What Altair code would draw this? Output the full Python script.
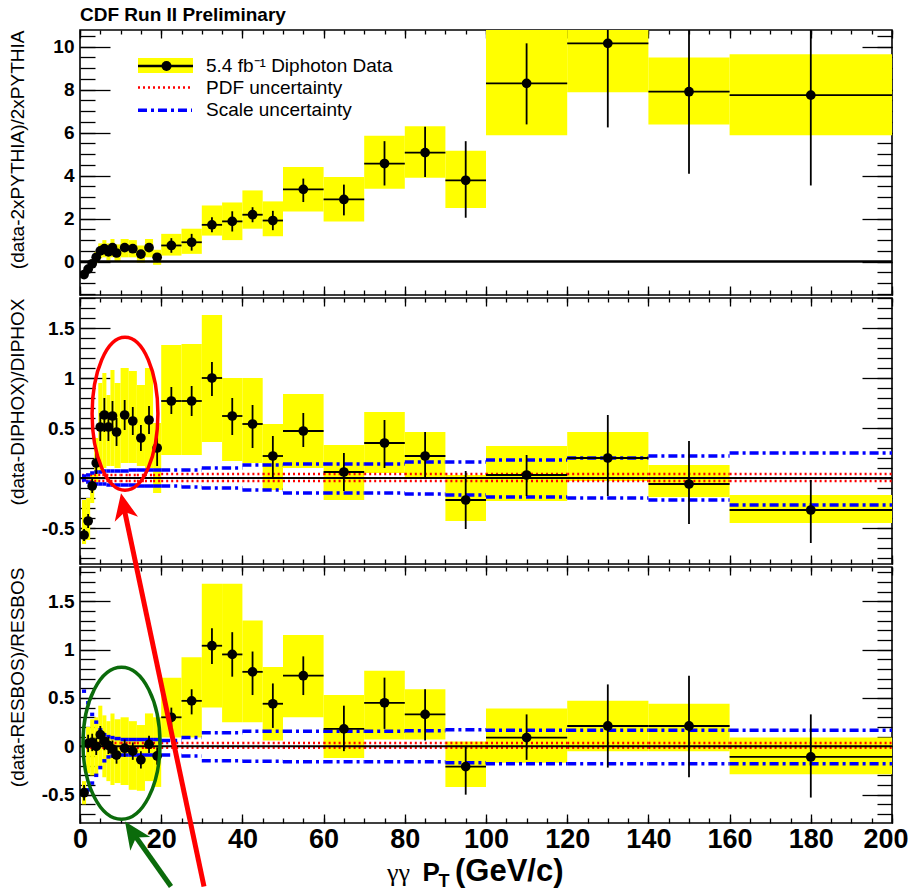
import altair as alt
import pandas as pd

FONT = "Liberation Sans"
YEL = "#ffff00"
BLUE = "#0000ff"
RED = "#ff0000"

# ---- binning (GeV/c) ----
bin_c = [1, 2, 3, 4, 5, 6, 7, 8, 9, 11, 13, 15, 17, 19, 22.5, 27.5, 32.5, 37.5, 42.5, 47.5, 55, 65, 75, 85, 95, 110, 130, 150, 180]
bin_lo = [0.5, 1.5, 2.5, 3.5, 4.5, 5.5, 6.5, 7.5, 8.5, 10, 12, 14, 16, 18, 20, 25, 30, 35, 40, 45, 50, 60, 70, 80, 90, 100, 120, 140, 160]
bin_hi = [1.5, 2.5, 3.5, 4.5, 5.5, 6.5, 7.5, 8.5, 10, 12, 14, 16, 18, 20, 25, 30, 35, 40, 45, 50, 60, 70, 80, 90, 100, 120, 140, 160, 200]

# ---- panel 1 : (data-2xPYTHIA)/2xPYTHIA ----
p1_val = [-0.6, -0.35, -0.1, 0.2, 0.5, 0.6, 0.45, 0.65, 0.4, 0.65, 0.6, 0.35, 0.65, 0.2, 0.75, 0.9, 1.71, 1.87, 2.18, 1.91, 3.36, 2.89, 4.56, 5.07, 3.78, 8.29, 10.15, 7.9, 7.74]
p1_err_lo = [-0.72, -0.47, -0.22, 0.08, 0.38, 0.45, 0.3, 0.5, 0.25, 0.5, 0.45, 0.2, 0.5, 0.05, 0.41, 0.51, 1.36, 1.4, 1.83, 1.46, 2.77, 2.15, 3.54, 3.94, 2.04, 6.38, 6.24, 4.09, 3.54]
p1_err_hi = [-0.48, -0.23, 0.02, 0.32, 0.62, 0.75, 0.6, 0.8, 0.55, 0.8, 0.75, 0.5, 0.8, 0.35, 1.09, 1.29, 2.06, 2.34, 2.53, 2.36, 3.86, 3.58, 5.6, 6.27, 5.6, 10.15, 12.5, 11.8, 11.9]
p1_sys_lo = [-0.75, -0.5, -0.3, -0.05, 0.15, 0.2, 0.05, 0.2, 0.0, 0.2, 0.2, -0.05, 0.2, -0.15, 0.28, 0.36, 1.21, 1.0, 1.53, 1.18, 2.33, 1.87, 3.39, 3.9, 2.49, 5.88, 7.87, 6.38, 5.88]
p1_sys_hi = [-0.45, -0.2, 0.1, 0.45, 0.85, 1.0, 0.85, 1.05, 0.8, 1.05, 1.0, 0.75, 1.05, 0.55, 1.29, 1.53, 2.61, 2.75, 3.31, 2.8, 4.4, 3.94, 5.85, 6.3, 5.15, 11.5, 12.5, 9.49, 9.64]

# ---- panel 2 : (data-DIPHOX)/DIPHOX ----
p2_val = [-0.57, -0.43, -0.08, 0.15, 0.51, 0.63, 0.51, 0.62, 0.46, 0.63, 0.57, 0.40, 0.58, 0.30, 0.77, 0.77, 1.0, 0.62, 0.54, 0.22, 0.47, 0.06, 0.35, 0.22, -0.22, 0.03, 0.2, -0.06, -0.32]
p2_err_lo = [-0.63, -0.5, -0.15, 0.04, 0.37, 0.46, 0.37, 0.47, 0.32, 0.48, 0.43, 0.27, 0.44, 0.12, 0.64, 0.62, 0.82, 0.43, 0.3, 0.0, 0.31, -0.13, 0.1, 0.0, -0.51, -0.18, -0.18, -0.46, -0.65]
p2_err_hi = [-0.51, -0.36, -0.01, 0.26, 0.65, 0.8, 0.65, 0.77, 0.6, 0.78, 0.71, 0.53, 0.72, 0.48, 0.91, 0.92, 1.16, 0.8, 0.73, 0.42, 0.65, 0.25, 0.58, 0.46, 0.07, 0.23, 0.63, 0.37, -0.02]
p2_sys_lo = [-0.66, -0.62, -0.25, -0.05, 0.05, 0.1, 0.12, 0.12, 0.1, 0.15, 0.15, 0.12, 0.1, -0.15, 0.23, 0.23, 0.36, 0.17, 0.15, -0.12, 0.1, -0.22, 0.05, 0.0, -0.43, -0.23, -0.03, -0.19, -0.45]
p2_sys_hi = [-0.22, -0.2, 0.05, 0.4, 0.95, 1.05, 0.83, 1.08, 0.95, 1.1, 1.07, 0.93, 1.1, 0.55, 1.33, 1.34, 1.63, 1.0, 1.0, 0.54, 0.84, 0.33, 0.66, 0.46, 0.03, 0.32, 0.46, 0.13, -0.17]
p2_scale_up = [0.02, 0.03, 0.05, 0.06, 0.06, 0.07, 0.07, 0.07, 0.07, 0.07, 0.08, 0.08, 0.08, 0.08, 0.08, 0.08, 0.1, 0.1, 0.13, 0.13, 0.14, 0.14, 0.14, 0.16, 0.16, 0.18, 0.2, 0.22, 0.25]
p2_scale_dn = [-0.02, -0.04, -0.05, -0.06, -0.06, -0.06, -0.07, -0.07, -0.07, -0.07, -0.07, -0.08, -0.08, -0.08, -0.08, -0.09, -0.1, -0.1, -0.12, -0.12, -0.15, -0.15, -0.15, -0.16, -0.17, -0.19, -0.2, -0.22, -0.27]
p2_pdf_up = [0.03, 0.03, 0.03, 0.03, 0.03, 0.03, 0.03, 0.03, 0.03, 0.03, 0.03, 0.03, 0.03, 0.03, 0.04, 0.04, 0.04, 0.04, 0.04, 0.04, 0.04, 0.04, 0.04, 0.04, 0.04, 0.04, 0.04, 0.04, 0.04]
p2_pdf_dn = [-0.03, -0.03, -0.03, -0.03, -0.03, -0.03, -0.03, -0.03, -0.03, -0.03, -0.03, -0.03, -0.03, -0.03, -0.03, -0.03, -0.03, -0.03, -0.03, -0.03, -0.03, -0.03, -0.03, -0.03, -0.03, -0.03, -0.03, -0.03, -0.03]

# ---- panel 3 : (data-RESBOS)/RESBOS ----
p3_val = [-0.48, 0.03, 0.04, 0.0, 0.12, 0.05, 0.01, -0.03, -0.09, -0.02, -0.05, -0.14, 0.02, -0.1, 0.3, 0.47, 1.04, 0.95, 0.77, 0.44, 0.73, 0.18, 0.45, 0.33, -0.21, 0.09, 0.21, 0.21, -0.11]
p3_err_lo = [-0.56, -0.06, -0.05, -0.09, 0.03, -0.04, -0.08, -0.12, -0.18, -0.11, -0.14, -0.23, -0.07, -0.19, 0.2, 0.33, 0.85, 0.72, 0.53, 0.19, 0.53, -0.05, 0.18, 0.06, -0.5, -0.14, -0.22, -0.32, -0.53]
p3_err_hi = [-0.4, 0.12, 0.13, 0.09, 0.21, 0.14, 0.1, 0.06, 0.0, 0.07, 0.04, -0.05, 0.11, -0.01, 0.4, 0.59, 1.22, 1.18, 0.98, 0.65, 0.93, 0.42, 0.71, 0.59, 0.0, 0.33, 0.64, 0.73, 0.33]
p3_sys_lo = [-0.6, -0.28, -0.3, -0.3, -0.22, -0.32, -0.36, -0.4, -0.38, -0.4, -0.45, -0.46, -0.36, -0.42, 0.09, 0.09, 0.4, 0.25, 0.25, 0.06, 0.3, -0.12, 0.07, 0.07, -0.42, -0.17, -0.05, -0.05, -0.29]
p3_sys_hi = [-0.36, 0.2, 0.28, 0.3, 0.42, 0.32, 0.26, 0.34, 0.28, 0.3, 0.26, 0.22, 0.34, 0.3, 0.71, 0.92, 1.68, 1.68, 1.3, 0.82, 1.15, 0.53, 0.78, 0.59, 0.05, 0.39, 0.47, 0.44, 0.09]
p3_scale_up = [0.57, 0.45, 0.33, 0.25, 0.17, 0.12, 0.1, 0.09, 0.08, 0.07, 0.07, 0.07, 0.07, 0.07, 0.06, 0.09, 0.14, 0.14, 0.155, 0.155, 0.155, 0.155, 0.155, 0.16, 0.17, 0.165, 0.165, 0.165, 0.165]
p3_scale_dn = [-0.5, -0.45, -0.38, -0.3, -0.22, -0.15, -0.11, -0.1, -0.09, -0.09, -0.09, -0.09, -0.09, -0.09, -0.09, -0.1, -0.15, -0.15, -0.155, -0.155, -0.16, -0.16, -0.16, -0.16, -0.17, -0.18, -0.18, -0.18, -0.18]
p3_pdf_up = [0.035, 0.035, 0.035, 0.035, 0.035, 0.035, 0.035, 0.035, 0.035, 0.035, 0.035, 0.035, 0.035, 0.035, 0.035, 0.035, 0.035, 0.035, 0.035, 0.035, 0.035, 0.035, 0.035, 0.035, 0.035, 0.035, 0.035, 0.035, 0.035]
p3_pdf_dn = [-0.015, -0.015, -0.015, -0.015, -0.015, -0.015, -0.015, -0.015, -0.015, -0.015, -0.015, -0.015, -0.015, -0.015, -0.015, -0.015, -0.015, -0.015, -0.015, -0.015, -0.015, -0.015, -0.015, -0.015, -0.015, -0.015, -0.015, -0.015, -0.015]

# reference (theory) line and axis ticks
ref_x = [0, 200]
ref_y = [0]
x_major = [0, 20, 40, 60, 80, 100, 120, 140, 160, 180, 200]
x_minor = list(range(0, 201, 5))
y1_major = [0, 2, 4, 6, 8, 10]
y1_minor = [round(-1.5 + 0.5 * i, 2) for i in range(25)]
y23_major = [-0.5, 0, 0.5, 1, 1.5]
y2_minor = [round(-0.8 + 0.1 * i, 1) for i in range(27)]
y3_minor = [round(-0.7 + 0.1 * i, 1) for i in range(26)]

titles = ["(data-2xPYTHIA)/2xPYTHIA", "(data-DIPHOX)/DIPHOX", "(data-RESBOS)/RESBOS"]
legend_labels = ["5.4 fb\u207b\u00b9 Diphoton Data", "PDF uncertainty", "Scale uncertainty"]

W = 812
H1, H2, H3 = 265, 266, 256
SP = 3

xs = alt.Scale(domain=[0, 200], nice=False, zero=False)
one = pd.DataFrame({"k": [0]})
ref_df = pd.DataFrame({"x0": [ref_x[0]], "x1": [ref_x[1]], "y0": ref_y})


def tick_axis(orient, vals, size, offset):
    return alt.Axis(orient=orient, values=vals, offset=offset, labels=False, ticks=True,
                    tickSize=size, tickWidth=1.3, tickColor="black", domain=False,
                    grid=False, title=None)


def y_label_axis(vals, title):
    return alt.Axis(orient="left", values=vals, ticks=False, domain=False, grid=False,
                    labelFont=FONT, labelFontSize=19, labelFontWeight="bold", labelColor="black",
                    labelPadding=6, labelExpr="'' + datum.value", labelFlush=False,
                    labelOverlap=False, title=title, titleFont=FONT, titleFontSize=19,
                    titleFontWeight="normal", titleColor="black", titleAnchor="end", titleX=-53)


def x_label_axis():
    return alt.Axis(orient="bottom", values=x_major, ticks=False, domain=False, grid=False,
                    labelFont=FONT, labelFontSize=27, labelFontWeight="bold", labelColor="black",
                    labelPadding=3, labelExpr="'' + datum.value", labelFlush=False,
                    labelAlign={"condition": {"test": "datum.value == 200", "value": "right"}, "value": "center"},
                    labelOffset={"condition": {"test": "datum.value == 200", "value": 16}, "value": 0},
                    labelOverlap=False, title=None)


def panel(df, H, ydom, ymaj, ymin, title, bottom_labels, uncert, extra):
    ys = alt.Scale(domain=ydom, nice=False, zero=False)
    base = alt.Chart(df)
    layers = []
    layers.append(base.mark_rect(color=YEL, clip=True).encode(
        x=alt.X("lo:Q", scale=xs, axis=x_label_axis() if bottom_labels else None),
        x2="hi:Q",
        y=alt.Y("slo:Q", scale=ys, axis=y_label_axis(ymaj, title)),
        y2="shi:Q"))
    if uncert:
        for col in ["pup", "pdn"]:
            layers.append(base.mark_rule(color=RED, strokeDash=[2, 3], strokeWidth=2.5, clip=True).encode(
                x=alt.X("lo:Q", scale=xs, axis=None), x2="hi:Q",
                y=alt.Y(col + ":Q", scale=ys, axis=None)))
        for col in ["sup", "sdn"]:
            layers.append(base.mark_rule(color=BLUE, strokeDash=[9, 4, 3, 4], strokeWidth=3.5, clip=True).encode(
                x=alt.X("lo:Q", scale=xs, axis=None), x2="hi:Q",
                y=alt.Y(col + ":Q", scale=ys, axis=None)))
    layers.append(alt.Chart(ref_df).mark_rule(color="black", strokeWidth=2.5 if not uncert else 2).encode(
        x=alt.X("x0:Q", scale=xs, axis=tick_axis("bottom", x_minor, 4, -H)),
        x2="x1:Q",
        y=alt.Y("y0:Q", scale=ys, axis=tick_axis("left", ymin, 15, -W))))
    layers.append(base.mark_rule(color="black", strokeWidth=1.8, clip=True).encode(
        x=alt.X("c:Q", scale=xs, axis=tick_axis("top", x_major, 9, -H)),
        y=alt.Y("elo:Q", scale=ys, axis=tick_axis("right", ymaj, 30, -W)),
        y2="ehi:Q"))
    layers.append(base.mark_rule(color="black", strokeWidth=1.8, clip=True).encode(
        x=alt.X("lo:Q", scale=xs, axis=tick_axis("top", x_minor, 5, -H)),
        x2="hi:Q",
        y=alt.Y("v:Q", scale=ys, axis=tick_axis("right", ymin, 15, -W))))
    layers.append(base.mark_circle(color="black", size=95, opacity=1, clip=True).encode(
        x=alt.X("c:Q", scale=xs, axis=tick_axis("bottom", x_major, 8, -H)),
        y=alt.Y("v:Q", scale=ys, axis=tick_axis("left", ymaj, 30, -W))))
    layers.extend(extra)
    return alt.layer(*layers).resolve_axis(x="independent", y="independent").properties(width=W, height=H)


def frame(val, elo, ehi, slo, shi, sup=None, sdn=None, pup=None, pdn=None):
    d = {"c": bin_c, "lo": bin_lo, "hi": bin_hi, "v": val, "elo": elo, "ehi": ehi, "slo": slo, "shi": shi}
    if sup is not None:
        d.update({"sup": sup, "sdn": sdn, "pup": pup, "pdn": pdn})
    return pd.DataFrame(d)


def txt(s, x, y, size, weight="normal", font=FONT, align="left", baseline="alphabetic", color="black"):
    return alt.Chart(one).mark_text(text=s, font=font, fontSize=size, fontWeight=weight, align=align,
                                    baseline=baseline, color=color).encode(x=alt.value(x), y=alt.value(y))


# ---- panel 1 extras: header + legend ----
p1_extra = [
    txt("CDF Run II Preliminary", 0, -9, 19, "bold"),
    alt.Chart(one).mark_rect(color=YEL).encode(x=alt.value(58), x2=alt.value(113), y=alt.value(28), y2=alt.value(43)),
    alt.Chart(one).mark_rule(color="black", strokeWidth=2.5).encode(x=alt.value(58), x2=alt.value(113), y=alt.value(36)),
    alt.Chart(one).mark_circle(color="black", size=100, opacity=1).encode(x=alt.value(86.5), y=alt.value(36)),
    alt.Chart(one).mark_rule(color=RED, strokeWidth=2.5, strokeDash=[2, 3]).encode(x=alt.value(58), x2=alt.value(112), y=alt.value(57.6)),
    alt.Chart(one).mark_rule(color=BLUE, strokeWidth=3.5, strokeDash=[9, 4, 3, 4]).encode(x=alt.value(58), x2=alt.value(112), y=alt.value(80.3)),
    txt(legend_labels[0], 126, 36, 19, baseline="middle"),
    txt(legend_labels[1], 126, 57.6, 19, baseline="middle"),
    txt(legend_labels[2], 126, 80.3, 19, baseline="middle"),
]

ELL_RED = "M0,-1A0.43,1 0 1,1 0,1A0.43,1 0 1,1 0,-1Z"
ELL_GREEN = "M0,-1A0.507,1 0 1,1 0,1A0.507,1 0 1,1 0,-1Z"
ARROW = "M0,0L-0.45,1L0,0.72L0.45,1Z"
GREEN = "#0b6b0b"

p2_extra = [
    alt.Chart(one).mark_point(shape=ELL_RED, size=23409, filled=False, strokeWidth=3.5, color=RED, opacity=1).encode(
        x=alt.value(45), y=alt.value(115.8)),
]

p3_extra = [
    alt.Chart(one).mark_point(shape=ELL_GREEN, size=23104, filled=False, strokeWidth=3.5, color=GREEN, opacity=1).encode(
        x=alt.value(41.5), y=alt.value(176.3)),
    alt.Chart(one).mark_rule(color=RED, strokeWidth=5).encode(
        x=alt.value(43), y=alt.value(-63.7), x2=alt.value(124), y2=alt.value(319.5)),
    alt.Chart(one).mark_point(shape=ARROW, size=2809, filled=True, color=RED, opacity=1, angle=348.3).encode(
        x=alt.value(41), y=alt.value(-73.7)),
    alt.Chart(one).mark_rule(color=GREEN, strokeWidth=5).encode(
        x=alt.value(49), y=alt.value(260.3), x2=alt.value(91), y2=alt.value(319.5)),
    alt.Chart(one).mark_point(shape=ARROW, size=2916, filled=True, color=GREEN, opacity=1, angle=325.4).encode(
        x=alt.value(45), y=alt.value(254.6)),
    txt("\u03b3\u03b3", 307, 313.5, 26, font="Liberation Serif"),
    txt("P", 342.5, 313.5, 26, "bold"),
    txt("T", 358.5, 320, 18, "bold"),
    txt("(GeV/c)", 375, 313.5, 31, "bold"),
]

d1 = frame(p1_val, p1_err_lo, p1_err_hi, p1_sys_lo, p1_sys_hi)
d2 = frame(p2_val, p2_err_lo, p2_err_hi, p2_sys_lo, p2_sys_hi, p2_scale_up, p2_scale_dn, p2_pdf_up, p2_pdf_dn)
d3 = frame(p3_val, p3_err_lo, p3_err_hi, p3_sys_lo, p3_sys_hi, p3_scale_up, p3_scale_dn, p3_pdf_up, p3_pdf_dn)

c1 = panel(d1, H1, [-1.553, 10.77], y1_major, y1_minor, titles[0], False, False, p1_extra)
c2 = panel(d2, H2, [-0.86, 1.80], y23_major, y2_minor, titles[1], False, True, p2_extra)
c3 = panel(d3, H3, [-0.793, 1.854], y23_major, y3_minor, titles[2], True, True, p3_extra)

chart = alt.vconcat(c1, c2, c3, spacing=SP, bounds="flush").properties(
    padding={"left": 7, "top": 5, "right": 0, "bottom": 0}
).configure(background="white").configure_view(stroke="black", strokeWidth=1.6)

chart.save("out.html", embed_options={"renderer": "svg", "actions": False})
